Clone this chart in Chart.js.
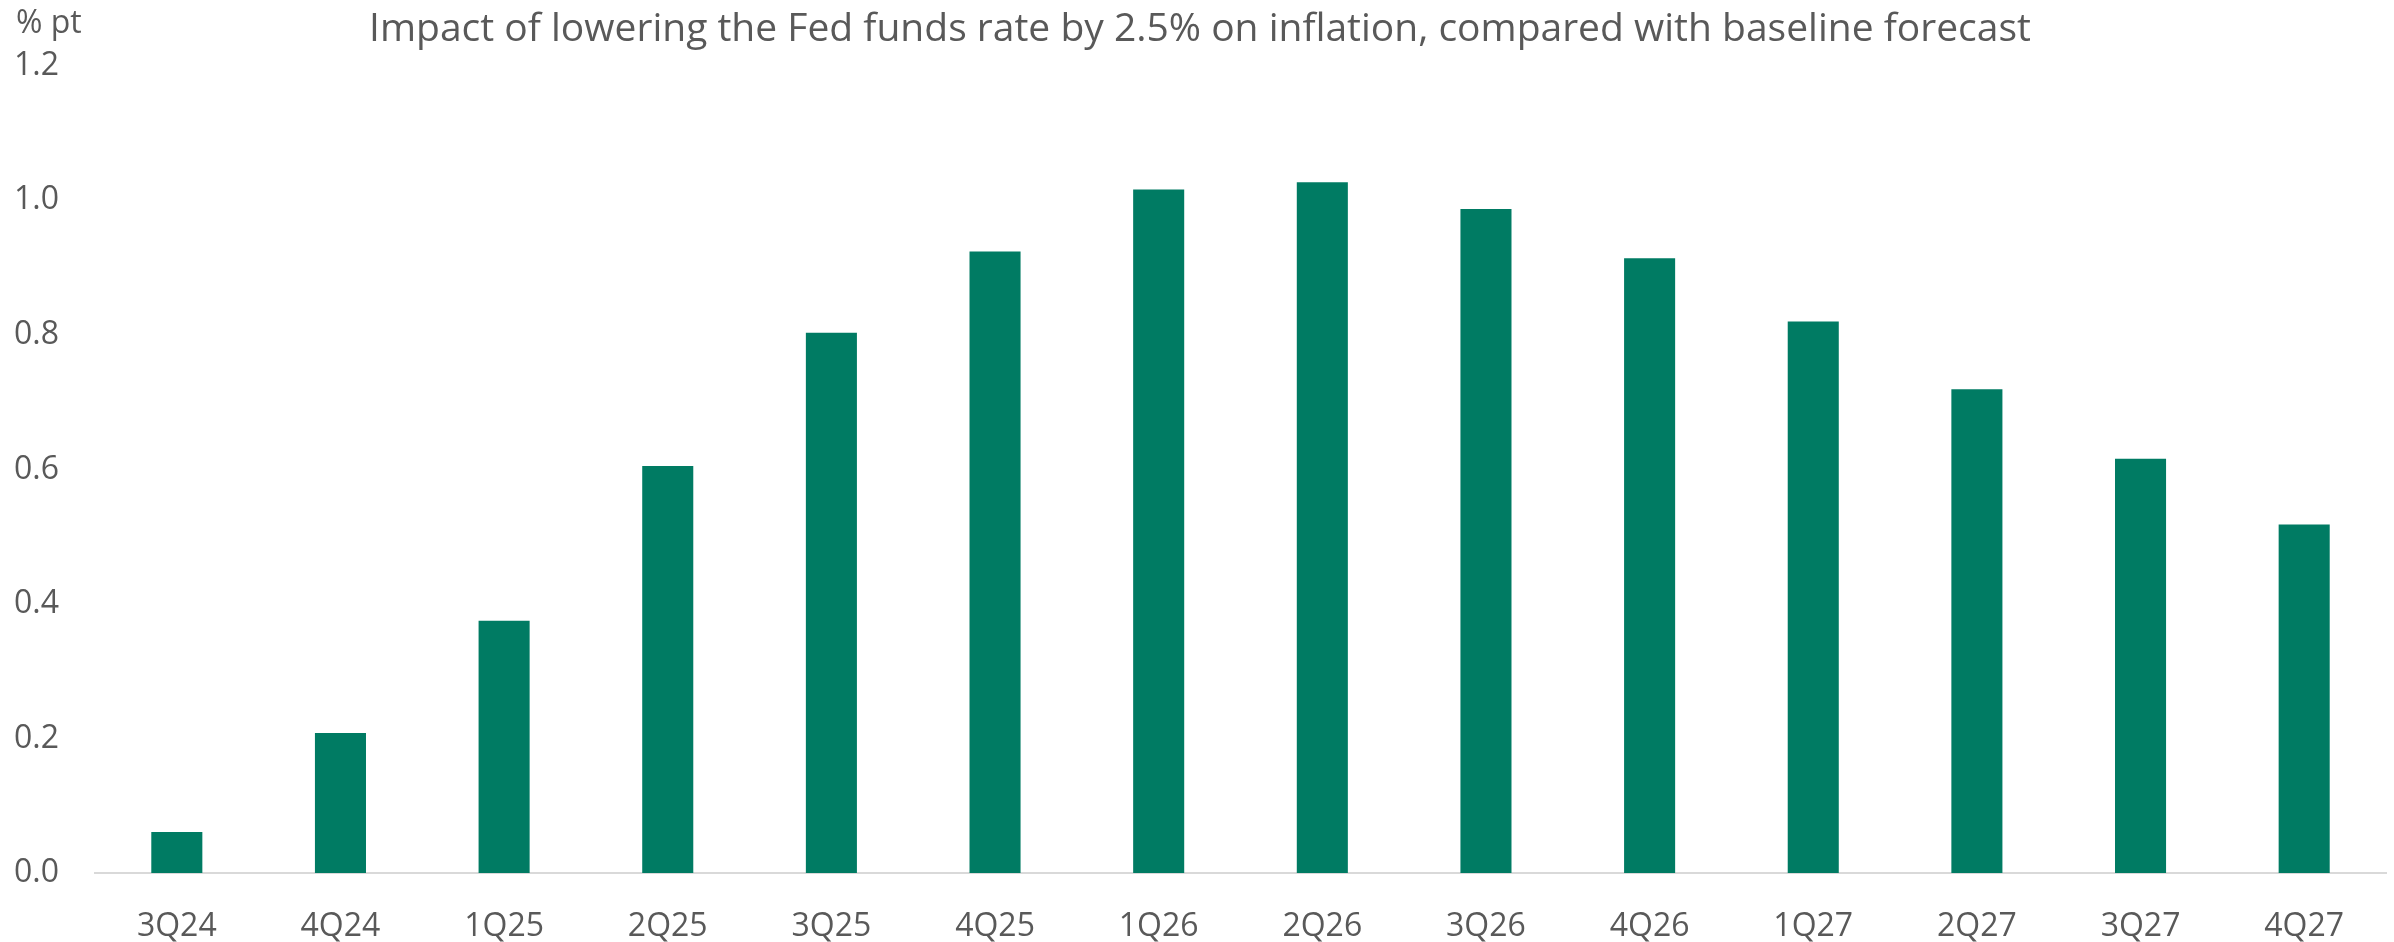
<!DOCTYPE html>
<html>
<head>
<meta charset="utf-8">
<script src="https://cdn.jsdelivr.net/npm/chart.js@4.4.1/dist/chart.umd.min.js"></script>
<style>
  html, body { margin: 0; padding: 0; background: #fff; }
  #wrap { width: 2394px; height: 942px; }
</style>
</head>
<body>
<div id="wrap"><canvas id="chart" width="2394" height="942"></canvas></div>
<script>
'use strict';

const quarters = ['3Q24', '4Q24', '1Q25', '2Q25', '3Q25', '4Q25', '1Q26', '2Q26', '3Q26', '4Q26', '1Q27', '2Q27', '3Q27', '4Q27'];
const impact = [0.061, 0.208, 0.375, 0.605, 0.803, 0.924, 1.016, 1.027, 0.987, 0.914, 0.820, 0.719, 0.616, 0.518];
const yTicks = [0, 0.2, 0.4, 0.6, 0.8, 1.0, 1.2];

const textColor = '#595959';
const fontFamily = '"Open Sans", "Noto Sans", sans-serif';

// small unit label above the y axis
const unitLabel = {
  id: 'unitLabel',
  afterDraw(chart) {
    const c = chart.ctx;
    c.save();
    c.fillStyle = textColor;
    c.font = '32px ' + fontFamily;
    c.textBaseline = 'middle';
    c.textAlign = 'left';
    c.fillText('% pt', 16, 24);
    c.restore();
  }
};

new Chart(document.getElementById('chart').getContext('2d'), {
  type: 'bar',
  data: {
    labels: quarters,
    datasets: [{
      data: impact,
      backgroundColor: '#007B63',
      borderWidth: 0,
      categoryPercentage: 1,
      barPercentage: 0.312
    }]
  },
  options: {
    responsive: false,
    animation: false,
    layout: { padding: { left: 14, right: 8, top: 0, bottom: 0 } },
    plugins: {
      legend: { display: false },
      tooltip: { enabled: false },
      title: {
        display: true,
        text: 'Impact of lowering the Fed funds rate by 2.5% on inflation, compared with baseline forecast',
        color: textColor,
        font: { family: fontFamily, size: 39, weight: 'normal' },
        padding: { top: 6, bottom: 13 }
      }
    },
    scales: {
      x: {
        grid: { display: false, drawTicks: false },
        border: { display: true, color: '#D9D9D9', width: 2 },
        afterFit(axis) {
          axis.height = 69;
        },
        ticks: {
          color: textColor,
          font: { family: fontFamily, size: 32 },
          padding: 35,
          maxRotation: 0
        }
      },
      y: {
        min: 0,
        max: 1.2,
        afterBuildTicks(axis) {
          axis.ticks = yTicks.map(v => ({ value: v }));
        },
        afterFit(axis) {
          axis.width = 81;
        },
        grid: { display: false, drawTicks: false },
        border: { display: false },
        ticks: {
          color: textColor,
          font: { family: fontFamily, size: 32 },
          crossAlign: 'far',
          padding: 0,
          callback: v => v.toFixed(1)
        }
      }
    }
  },
  plugins: [unitLabel]
});
</script>
</body>
</html>
